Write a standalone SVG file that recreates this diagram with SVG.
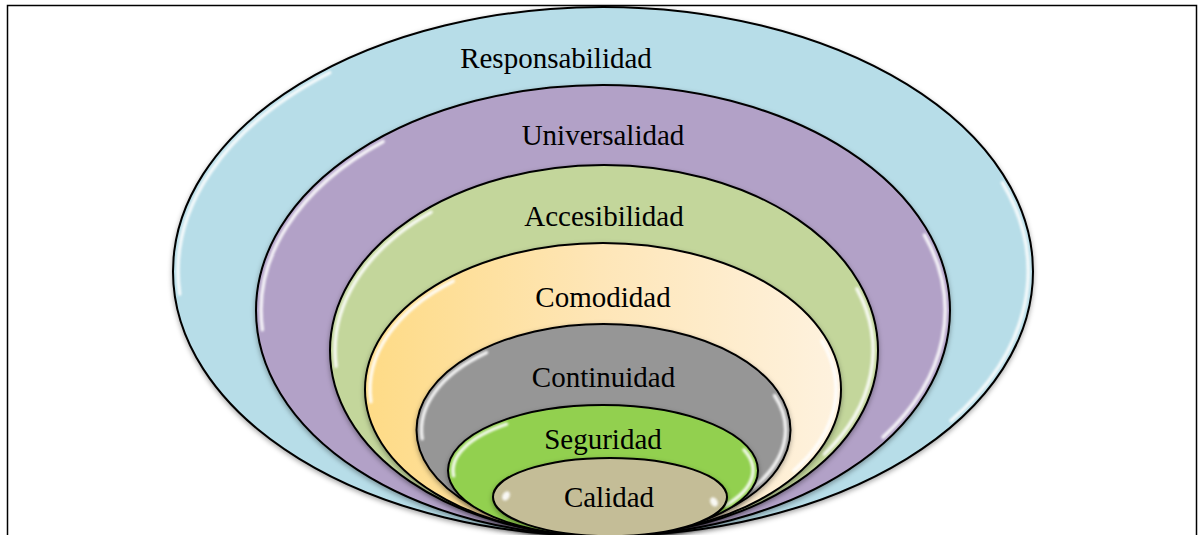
<svg xmlns="http://www.w3.org/2000/svg" width="1199" height="535" viewBox="0 0 1199 535">
<defs>
<filter id="sh" x="-10%" y="-10%" width="120%" height="130%">
<feDropShadow dx="0" dy="2" stdDeviation="2.5" flood-color="#000" flood-opacity="0.35"/>
</filter>
<filter id="blur" x="-20%" y="-20%" width="140%" height="140%">
<feGaussianBlur stdDeviation="1.2"/>
</filter>
<linearGradient id="yel" x1="0" y1="0" x2="1" y2="0">
<stop offset="0" stop-color="#fedb86"/>
<stop offset="0.5" stop-color="#fee6b8"/>
<stop offset="1" stop-color="#fef2df"/>
</linearGradient>
<style>
.ring{stroke:#000;stroke-width:2;filter:url(#sh)}
.hl{fill:none;stroke:#fff;stroke-width:3.5;stroke-linecap:round;opacity:0.85;filter:url(#blur)}
.spot{fill:#fff;opacity:0.9;filter:url(#blur)}
.lbl{font-family:"Liberation Serif","Times New Roman",serif;font-size:29px;fill:#000;text-anchor:middle}
</style>
</defs>
<rect x="0" y="0" width="1199" height="535" fill="#fff"/>
<rect x="7.5" y="5.5" width="1189" height="545" fill="none" stroke="#000" stroke-width="1.5"/>

<g id="responsabilidad">
<ellipse class="ring" cx="603" cy="271.5" rx="430" ry="264.5" fill="#b7dde8"/>
<path class="hl" d="M179.7 294.1 A425 259.5 0 0 1 329.7 72.7"/>
<path class="hl" d="M1002.5 182.8 A425 259.5 0 0 1 951.1 420.5"/>
<text class="lbl" x="556" y="68">Responsabilidad</text>
</g>

<g id="universalidad">
<ellipse class="ring" cx="603" cy="310.5" rx="347" ry="225.5" fill="#b2a1c7"/>
<path class="hl" d="M262.4 329.7 A342 220.5 0 0 1 383.1 141.6"/>
<path class="hl" d="M924.5 235.1 A342 220.5 0 0 1 883.1 437.1"/>
<text class="lbl" x="603" y="145">Universalidad</text>
</g>

<g id="accesibilidad">
<ellipse class="ring" cx="604" cy="350.5" rx="274" ry="185.5" fill="#c3d69b"/>
<path class="hl" d="M336.1 366.2 A269 180.5 0 0 1 431 212.2"/>
<path class="hl" d="M856.9 288.8 A269 180.5 0 0 1 824.3 454.1"/>
<text class="lbl" x="604" y="226">Accesibilidad</text>
</g>

<g id="comodidad">
<ellipse class="ring" cx="603" cy="389.5" rx="238" ry="146.5" fill="url(#yel)"/>
<path class="hl" d="M370.9 401.8 A233 141.5 0 0 1 453.2 281.1"/>
<path class="hl" d="M822 341.1 A233 141.5 0 0 1 793.8 470.7"/>
<text class="lbl" x="603" y="307">Comodidad</text>
</g>

<g id="continuidad">
<ellipse class="ring" cx="603.5" cy="430" rx="187" ry="106" fill="#969696"/>
<path class="hl" d="M422.2 438.8 A182 101 0 0 1 486.5 352.6"/>
<path class="hl" d="M774.6 395.5 A182 101 0 0 1 752.6 488"/>
<text class="lbl" x="603.5" y="387">Continuidad</text>
</g>

<g id="seguridad">
<ellipse class="ring" cx="603" cy="470.5" rx="155" ry="65.5" fill="#92d050"/>
<path class="hl" d="M453.6 475.8 A150 60.5 0 0 1 506.5 424.2"/>
<path class="hl" d="M744 449.8 A150 60.5 0 0 1 725.9 505.2"/>
<text class="lbl" x="603" y="449">Seguridad</text>
</g>

<g id="calidad">
<ellipse class="ring" cx="610" cy="497" rx="117" ry="39" fill="#c4bd97"/>
<ellipse class="spot" cx="506" cy="496" rx="3.5" ry="5" transform="rotate(30 506 496)"/>
<ellipse class="spot" cx="714" cy="502" rx="3.5" ry="5" transform="rotate(-30 714 502)"/>
<text class="lbl" x="609" y="507">Calidad</text>
</g>
</svg>
